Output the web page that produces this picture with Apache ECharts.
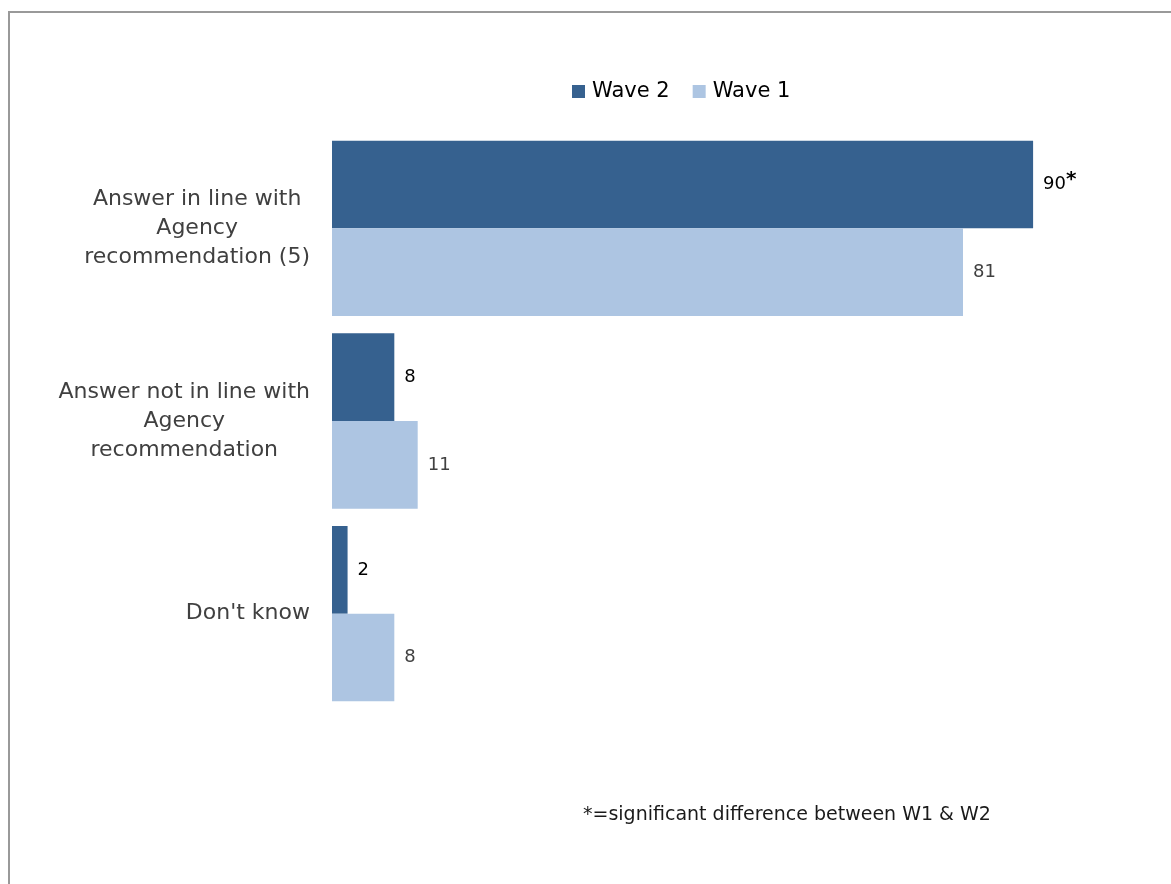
<!DOCTYPE html>
<html>
<head>
<meta charset="utf-8">
<title>Answer in line with Agency recommendation</title>
<script src="https://cdn.jsdelivr.net/npm/echarts@6/dist/echarts.min.js"></script>
<style>
  html, body { margin: 0; padding: 0; background: #ffffff; }
  #chart { width: 1171px; height: 884px; }
</style>
</head>
<body>
<div id="chart"></div>
<script>
// Response categories, top to bottom
const categories = [
  'Answer in line with\nAgency\nrecommendation (5)',
  'Answer not in line with\nAgency\nrecommendation',
  "Don't know"
];
// Percentages per wave
const wave2Values = [90, 8, 2];
const wave1Values = [81, 11, 8];
// Significance flag shown next to the Wave 2 value
const wave2Significant = [true, false, false];
const footnote = '*=significant difference between W1 & W2';

const FONT = '"DejaVu Sans", Verdana, sans-serif';
const DARK = '#36618f';
const LIGHT = '#adc5e2';

const chart = echarts.init(document.getElementById('chart'), null, { renderer: 'canvas' });

const option = {
  backgroundColor: '#ffffff',
  animation: false,
  textStyle: { fontFamily: FONT },
  legend: {
    left: 567,
    top: 76,
    itemWidth: 13,
    itemHeight: 13,
    itemGap: 23,
    icon: 'rect',
    textStyle: { fontFamily: FONT, fontSize: 21, color: '#000000', padding: [0, 0, 0, 2] },
    data: ['Wave 2', 'Wave 1']
  },
  grid: { left: 332, right: 60, top: 132, bottom: 174, containLabel: false },
  xAxis: {
    type: 'value',
    min: 0,
    max: 100,
    show: false
  },
  yAxis: {
    type: 'category',
    inverse: true,
    data: categories,
    axisLine: { show: false },
    axisTick: { show: false },
    splitLine: { show: false },
    axisLabel: {
      margin: 22,
      fontFamily: FONT,
      fontSize: 22,
      color: '#404040',
      align: 'right',
      formatter: function (v) {
        return v.split('\n').map(function (l) { return '{c|' + l + '}'; }).join('\n');
      },
      rich: {
        c: { align: 'center', fontFamily: FONT, fontSize: 22, lineHeight: 29, color: '#404040' }
      }
    }
  },
  series: [
    {
      name: 'Wave 2',
      type: 'bar',
      data: wave2Values,
      barGap: '0%',
      barCategoryGap: '9%',
      itemStyle: { color: DARK },
      label: {
        show: true,
        position: 'right',
        distance: 10,
        formatter: function (p) {
          return '{v|' + p.value + '}' + (wave2Significant[p.dataIndex] ? '{s|*}' : '');
        },
        rich: {
          v: { fontFamily: FONT, fontSize: 18, color: '#000000', lineHeight: 30 },
          s: { fontFamily: FONT, fontSize: 20, fontWeight: 'bold', color: '#000000', verticalAlign: 'top', lineHeight: 30 }
        }
      }
    },
    {
      name: 'Wave 1',
      type: 'bar',
      data: wave1Values,
      barGap: '0%',
      barCategoryGap: '9%',
      itemStyle: { color: LIGHT },
      label: {
        show: true,
        position: 'right',
        distance: 10,
        fontFamily: FONT,
        fontSize: 18,
        color: '#404040'
      }
    }
  ],
  graphic: [
    {
      // frame: top and left edges of the chart area
      type: 'polyline',
      shape: { points: [[9, 890], [9, 12], [1180, 12]] },
      style: { stroke: '#999999', lineWidth: 2, fill: null },
      silent: true
    },
    {
      type: 'text',
      left: 583,
      top: 806,
      style: { text: footnote, fontFamily: FONT, fontSize: 19, fill: '#1a1a1a' },
      silent: true
    }
  ]
};

chart.setOption(option);
</script>
</body>
</html>
